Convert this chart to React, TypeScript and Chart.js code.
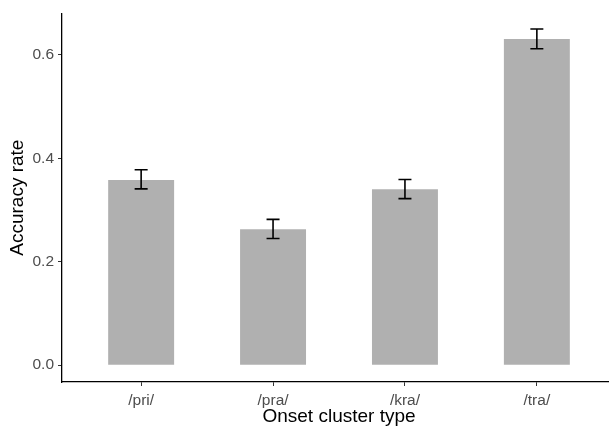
import { useEffect, useRef } from "react";
import { Chart, registerables } from "chart.js";

Chart.register(...registerables);

const categories = ["/pri/", "/pra/", "/kra/", "/tra/"];
const accuracy = [0.358, 0.263, 0.34, 0.631];
const errLower = [0.341, 0.245, 0.322, 0.612];
const errUpper = [0.378, 0.282, 0.359, 0.65];
const yTickValues = [0, 0.2, 0.4, 0.6];
const xTitle = "Onset cluster type";
const yTitle = "Accuracy rate";

const FONT = '"Liberation Sans", Arial, sans-serif';

export default function App() {
  const ref = useRef<HTMLCanvasElement | null>(null);

  useEffect(() => {
    document.body.style.margin = "0";
    const canvas = ref.current;
    if (!canvas) return;

    const errorBars = {
      id: "errorBars",
      afterDatasetsDraw(chart: any) {
        const { ctx, scales } = chart;
        const xs = scales.x;
        const ys = scales.y;
        ctx.save();
        ctx.strokeStyle = "#000000";
        ctx.lineWidth = 1.6;
        for (let i = 0; i < categories.length; i++) {
          const px = xs.getPixelForValue(i + 1);
          const top = ys.getPixelForValue(errUpper[i]);
          const bot = ys.getPixelForValue(errLower[i]);
          const half = 6.5;
          ctx.beginPath();
          ctx.moveTo(px, top);
          ctx.lineTo(px, bot);
          ctx.moveTo(px - half, top);
          ctx.lineTo(px + half, top);
          ctx.moveTo(px - half, bot);
          ctx.lineTo(px + half, bot);
          ctx.stroke();
        }
        ctx.restore();
      },
    };

    const titles = {
      id: "axisTitles",
      afterDraw(chart: any) {
        const { ctx, chartArea } = chart;
        ctx.save();
        ctx.fillStyle = "#000000";
        ctx.font = `19px ${FONT}`;
        ctx.textAlign = "center";
        ctx.textBaseline = "middle";
        const xs = chart.scales.x;
        const cx = (xs.getPixelForValue(1) + xs.getPixelForValue(categories.length)) / 2;
        ctx.fillText(xTitle, cx, 417);
        ctx.translate(17.5, (chartArea.top + chartArea.bottom) / 2);
        ctx.rotate(-Math.PI / 2);
        ctx.fillText(yTitle, 0, 0);
        ctx.restore();
      },
    };

    const chart = new Chart(canvas, {
      type: "bar",
      data: {
        datasets: [
          {
            label: "Accuracy",
            data: accuracy.map((v, i) => ({ x: i + 1, y: v })),
            backgroundColor: "#B0B0B0",
            borderWidth: 0,
            categoryPercentage: 1,
            barPercentage: 0.5,
          },
        ],
      },
      options: {
        animation: false,
        responsive: false,
        maintainAspectRatio: false,
        layout: { padding: { top: 10, left: 0, right: 0, bottom: 0 } },
        plugins: {
          legend: { display: false },
          tooltip: { enabled: false },
          title: { display: false },
        },
        scales: {
          x: {
            type: "linear",
            min: 0.4,
            max: 4.6,
            offset: false,
            afterBuildTicks: (s: any) => {
              s.ticks = categories.map((_, i) => ({ value: i + 1 }));
            },
            afterFit: (s: any) => {
              s.height = 45;
            },
            grid: {
              offset: false,
              drawOnChartArea: false,
              drawTicks: true,
              tickLength: 4,
              color: "#333333",
              lineWidth: 1,
            },
            border: { display: true, color: "#000000", width: 1.3 },
            ticks: {
              autoSkip: false,
              maxRotation: 0,
              padding: 5,
              color: "#4D4D4D",
              font: { family: FONT, size: 15.5 },
              callback: (v: any) => categories[Number(v) - 1] ?? "",
            },
          },
          y: {
            type: "linear",
            min: -0.0326,
            max: 0.6805,
            afterBuildTicks: (s: any) => {
              s.ticks = yTickValues.map((v) => ({ value: v }));
            },
            afterFit: (s: any) => {
              s.width = 62;
            },
            grid: {
              drawOnChartArea: false,
              drawTicks: true,
              tickLength: 4,
              color: "#333333",
              lineWidth: 1,
            },
            border: { display: true, color: "#000000", width: 1.3 },
            ticks: {
              padding: 4,
              color: "#4D4D4D",
              font: { family: FONT, size: 15.5 },
              callback: (v: any) => Number(v).toFixed(1),
            },
          },
        },
      },
      plugins: [errorBars, titles],
    });

    return () => chart.destroy();
  }, []);

  return (
    <div style={{ width: 609, height: 427, overflow: "hidden", background: "#ffffff" }}>
      <canvas ref={ref} width={616} height={427} style={{ display: "block" }} />
    </div>
  );
}
